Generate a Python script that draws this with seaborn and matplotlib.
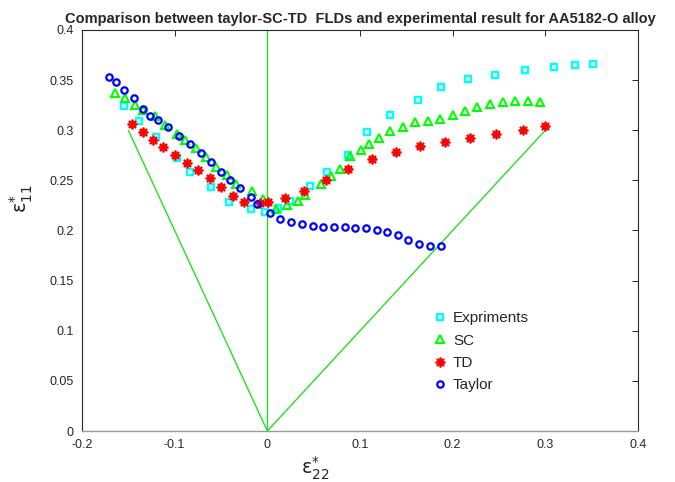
import numpy as np
import pandas as pd
import matplotlib
matplotlib.use("Agg")
import matplotlib.pyplot as plt
import seaborn as sns
from matplotlib.ticker import FuncFormatter, MultipleLocator

# Experimental points (cyan squares)
exp_x = [-0.155, -0.138, -0.120, -0.098, -0.084, -0.061, -0.041, -0.018, -0.002, 0.012,
         0.024, 0.046, 0.064, 0.087, 0.108, 0.132, 0.163, 0.187, 0.217, 0.246,
         0.278, 0.309, 0.332, 0.351]
exp_y = [0.324, 0.309, 0.293, 0.272, 0.258, 0.243, 0.228, 0.221, 0.218, 0.222,
         0.229, 0.244, 0.258, 0.275, 0.298, 0.315, 0.330, 0.343, 0.351, 0.355,
         0.360, 0.363, 0.365, 0.366]

# SC model (green triangles)
sc_x = [-0.164, -0.154, -0.143, -0.134, -0.121, -0.110, -0.098, -0.089, -0.077, -0.066,
        -0.055, -0.044, -0.034, -0.017, -0.005, 0.009, 0.021, 0.033, 0.041, 0.058,
        0.069, 0.078, 0.089, 0.101, 0.110, 0.120, 0.132, 0.146, 0.159, 0.173,
        0.186, 0.200, 0.213, 0.226, 0.240, 0.254, 0.267, 0.281, 0.294]
sc_y = [0.337, 0.332, 0.325, 0.320, 0.314, 0.305, 0.296, 0.290, 0.282, 0.273,
        0.263, 0.255, 0.246, 0.239, 0.231, 0.221, 0.225, 0.229, 0.235, 0.246,
        0.254, 0.261, 0.274, 0.280, 0.286, 0.292, 0.299, 0.303, 0.308, 0.309,
        0.311, 0.315, 0.319, 0.323, 0.326, 0.328, 0.329, 0.329, 0.328]

# TD model (red asterisks)
td_x = [-0.146, -0.134, -0.123, -0.113, -0.100, -0.087, -0.075, -0.062, -0.050, -0.037,
        -0.025, -0.008, 0.001, 0.019, 0.040, 0.063, 0.087, 0.113, 0.139, 0.165,
        0.192, 0.219, 0.247, 0.276, 0.300]
td_y = [0.306, 0.298, 0.290, 0.283, 0.275, 0.267, 0.260, 0.252, 0.243, 0.234,
        0.228, 0.227, 0.228, 0.232, 0.239, 0.250, 0.261, 0.271, 0.278, 0.284,
        0.288, 0.292, 0.296, 0.300, 0.304]

# Taylor model (blue circles)
tay_x = [-0.171, -0.163, -0.155, -0.144, -0.134, -0.127, -0.118, -0.107, -0.095, -0.084,
         -0.072, -0.061, -0.050, -0.040, -0.029, -0.018, -0.011, 0.003, 0.014, 0.026,
         0.037, 0.049, 0.060, 0.072, 0.084, 0.095, 0.107, 0.118, 0.129, 0.141,
         0.152, 0.164, 0.176, 0.187]
tay_y = [0.353, 0.348, 0.340, 0.332, 0.321, 0.314, 0.310, 0.303, 0.294, 0.286,
         0.277, 0.268, 0.258, 0.250, 0.242, 0.233, 0.226, 0.217, 0.211, 0.208,
         0.206, 0.204, 0.203, 0.203, 0.203, 0.202, 0.202, 0.200, 0.198, 0.196,
         0.191, 0.187, 0.185, 0.185]

# green guide lines
guide_x = [-0.15, 0.0, 0.3]
guide_y = [0.3, 0.0, 0.3]
vert_x = [0.0, 0.0]
vert_y = [0.0, 0.4]

sns.set_style("white")
plt.rcParams['font.family'] = ['Liberation Sans', 'DejaVu Sans']
plt.rcParams['mathtext.fontset'] = 'dejavusans'

fig = plt.figure(figsize=(6.75, 4.82), dpi=100)
ax = fig.add_axes([0.1215, 0.1058, 0.8237, 0.8320])

# guide lines
sns.lineplot(x=guide_x, y=guide_y, sort=False, estimator=None, color='#22e022', lw=1.0, ax=ax)
sns.lineplot(x=vert_x, y=vert_y, sort=False, estimator=None, color='#22e022', lw=1.0, ax=ax)

series = [
    (exp_x, exp_y, 'Expriments', 's', '#00ffff', 4.6, 1.7),
    (sc_x, sc_y, 'SC', '^', '#00ff00', 5.8, 1.5),
    (td_x, td_y, 'TD', (8, 2, 0), '#ff0000', 7.0, 1.3),
    (tay_x, tay_y, 'Taylor', 'o', '#0000ff', 4.6, 1.6),
]
for xs, ys, name, mk, col, ms, mew in series:
    df = pd.DataFrame({'x': xs, 'y': ys})
    sns.lineplot(data=df, x='x', y='y', sort=False, estimator=None, ax=ax,
                 linestyle='none', marker=mk, ms=ms, mew=mew, mec=col,
                 mfc='none', color=col, label=name)

ax.set_xlim(-0.2, 0.4)
ax.set_ylim(0, 0.4)
ax.xaxis.set_major_locator(MultipleLocator(0.1))
ax.yaxis.set_major_locator(MultipleLocator(0.05))
fmt = FuncFormatter(lambda v, p: '%g' % round(v, 3))
ax.xaxis.set_major_formatter(fmt)
ax.yaxis.set_major_formatter(fmt)
ax.tick_params(direction='in', length=4, width=0.7, top=True, right=True,
               labelsize=9, colors='#262626', pad=6)

for side in ['left', 'top', 'right']:
    ax.spines[side].set_color('#262626')
    ax.spines[side].set_linewidth(0.8)
ax.spines['bottom'].set_color('#9a9a9a')
ax.spines['bottom'].set_linewidth(1.0)

ax.set_title("Comparison between taylor-SC-TD  FLDs and experimental result for AA5182-O alloy",
             fontsize=10.5, fontweight='bold', pad=5)
ax.set_xlabel(r'$\mathrm{\epsilon}^{*}_{22}$', fontsize=14, color='#262626')
ax.set_ylabel(r'$\mathrm{\epsilon}^{*}_{11}$', fontsize=14, color='#262626')
ax.xaxis.set_label_coords(0.42, -0.06)
ax.yaxis.set_label_coords(-0.085, 0.58)

ax.legend(loc='upper left', bbox_to_anchor=(0.633, 0.299), frameon=False,
          fontsize=11, numpoints=1, handlelength=0.8, handletextpad=0.45,
          labelspacing=0.55, borderpad=0, borderaxespad=0)

fig.savefig("out.png", dpi=100)
